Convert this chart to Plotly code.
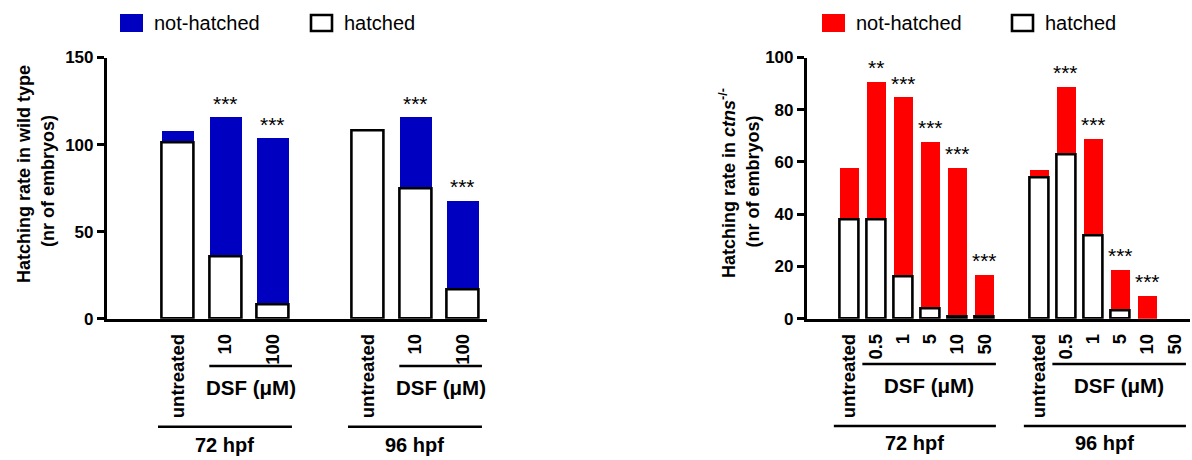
import plotly.graph_objects as go

# ---------------- data ----------------
wt_labels = ["untreated", "10", "100", "untreated", "10", "100"]
wt_groups = ["72 hpf", "72 hpf", "72 hpf", "96 hpf", "96 hpf", "96 hpf"]
wt_hatched = [101, 36, 8, 108, 75, 17]
wt_not_hatched = [7, 80, 96, 0, 41, 51]
wt_sig = ["", "***", "***", "", "***", "***"]

ctns_labels = ["untreated", "0.5", "1", "5", "10", "50",
               "untreated", "0.5", "1", "5", "10", "50"]
ctns_groups = ["72 hpf"] * 6 + ["96 hpf"] * 6
ctns_hatched = [38, 38, 16, 4, 1, 1, 54, 63, 32, 3, 0, 0]
ctns_not_hatched = [20, 53, 69, 64, 57, 16, 3, 26, 37, 16, 9, 0]
ctns_sig = ["", "**", "***", "***", "***", "***", "", "***", "***", "***", "***", ""]

wt_ticks = [0, 50, 100, 150]
ctns_ticks = [0, 20, 40, 60, 80, 100]

# ---------------- style ----------------
FONT = "Liberation Sans, Arial, sans-serif"
BLUE = "#0000C0"
RED = "#FF0000"
LW = 2.6
W, H = 1192, 460


def positions(groups):
    """bar positions: one empty slot before the first group and between groups"""
    pos, p, prev = [], 0, None
    for g in groups:
        p += 2 if (prev is not None and g != prev) else 1
        pos.append(p)
        prev = g
    return pos


def nz(values):
    # zero counts are not drawn (no empty outline)
    return [v if v else None for v in values]


wt_pos = positions(wt_groups)
ctns_pos = positions(ctns_groups)

fig = go.Figure()


def add_panel(xa, ya, pos, hatched, not_hatched, color, width):
    fig.add_trace(go.Bar(
        x=pos, y=nz(not_hatched), base=hatched, width=width,
        marker=dict(color=color, line=dict(width=0)),
        name="not-hatched", showlegend=False, xaxis=xa, yaxis=ya,
        hoverinfo="skip"))
    fig.add_trace(go.Bar(
        x=pos, y=nz(hatched), width=width,
        marker=dict(color="white", line=dict(color="black", width=LW)),
        name="hatched", showlegend=False, xaxis=xa, yaxis=ya,
        hoverinfo="skip"))


add_panel("x", "y", wt_pos, wt_hatched, wt_not_hatched, BLUE, 0.67)
add_panel("x2", "y2", ctns_pos, ctns_hatched, ctns_not_hatched, RED, 0.70)

# --- axes ---
ydom = [1 - 318.7 / H, 1 - 57.5 / H]
common_x = dict(showgrid=False, zeroline=False, showline=True, linewidth=LW,
                linecolor="black", ticks="outside", ticklen=5,
                tickcolor="rgba(0,0,0,0)", automargin=False,
                tickangle=-90, tickmode="array",
                tickfont=dict(family=FONT, size=18.5, color="black", weight="bold"))
common_y = dict(showgrid=False, zeroline=False, showline=True, linewidth=LW,
                linecolor="black", ticks="outside", ticklen=7, tickwidth=LW,
                tickcolor="black", tickmode="array", automargin=False,
                tickfont=dict(family=FONT, size=17, color="black", weight="bold"))

fig.update_layout(
    xaxis=dict(domain=[106.7 / W, 486.7 / W], range=[-0.5, 7.5],
               tickvals=wt_pos, ticktext=wt_labels, anchor="y", **common_x),
    yaxis=dict(domain=ydom, range=[0, 150], tickvals=wt_ticks, anchor="x", **common_y),
    xaxis2=dict(domain=[806.7 / W, 1190 / W], range=[-0.55, 13.57],
                tickvals=ctns_pos, ticktext=ctns_labels, anchor="y2", **common_x),
    yaxis2=dict(domain=ydom, range=[0, 100], tickvals=ctns_ticks, anchor="x2", **common_y),
)

shapes, annots = [], []

# significance stars
for xa, ya, pos, hat, nh, sig in [("x", "y", wt_pos, wt_hatched, wt_not_hatched, wt_sig),
                                   ("x2", "y2", ctns_pos, ctns_hatched, ctns_not_hatched, ctns_sig)]:
    for p, h, n, s in zip(pos, hat, nh, sig):
        if s:
            annots.append(dict(x=p, y=h + n, xref=xa, yref=ya, text=s, showarrow=False,
                               xanchor="center", yanchor="bottom", yshift=0,
                               font=dict(family=FONT, size=21, color="black")))


def brackets(xref, pos, labels, groups, dsf_y, dsf_t, hpf_y, hpf_t, l_dsf, l_hpf, r_ext):
    for g in dict.fromkeys(groups):
        gp = [p for p, gg in zip(pos, groups) if gg == g]
        dp = [p for p, gg, lab in zip(pos, groups, labels) if gg == g and lab != "untreated"]
        x0, x1 = dp[0] - l_dsf, dp[-1] + r_ext
        shapes.append(dict(type="line", xref=xref, yref="paper", x0=x0, x1=x1,
                           y0=dsf_y, y1=dsf_y, line=dict(color="black", width=LW)))
        annots.append(dict(x=(x0 + x1) / 2, y=dsf_t, xref=xref, yref="paper",
                           text="DSF (\u03bcM)", showarrow=False, xanchor="center",
                           yanchor="middle",
                           font=dict(family=FONT, size=20.5, color="black", weight="bold")))
        h0, h1 = gp[0] - l_hpf, gp[-1] + r_ext
        shapes.append(dict(type="line", xref=xref, yref="paper", x0=h0, x1=h1,
                           y0=hpf_y, y1=hpf_y, line=dict(color="black", width=LW)))
        annots.append(dict(x=(h0 + h1) / 2, y=hpf_t, xref=xref, yref="paper",
                           text=g, showarrow=False, xanchor="center", yanchor="middle",
                           font=dict(family=FONT, size=20, color="black", weight="bold")))


brackets("x", wt_pos, wt_labels, wt_groups, 1 - 366 / H, 1 - 387 / H,
         1 - 426.7 / H, 1 - 445 / H, 0.34, 0.42, 0.40)
brackets("x2", ctns_pos, ctns_labels, ctns_groups, 1 - 364 / H, 1 - 385 / H,
         1 - 426 / H, 1 - 443 / H, 0.50, 0.55, 0.42)

# y-axis titles
TF = dict(family=FONT, size=18, color="black", weight="bold")
for x, y, txt in [(24, 174, "Hatching rate in wild type"),
                  (48, 181, "(nr of embryos)"),
                  (727, 183, "Hatching rate in <i>ctns</i><sup>-/-</sup>"),
                  (752, 181.5, "(nr of embryos)")]:
    annots.append(dict(x=x / W, y=1 - y / H, xref="paper", yref="paper", showarrow=False,
                       xanchor="center", yanchor="middle", text=txt, textangle=-90, font=TF))

# legends (drawn boxes + labels)
LF = dict(family=FONT, size=20, color="black")
for x0, col in [(120, BLUE), (822, RED)]:
    shapes.append(dict(type="rect", xref="paper", yref="paper",
                       x0=x0 / W, x1=(x0 + 23) / W, y0=1 - 32 / H, y1=1 - 14 / H,
                       fillcolor=col, line=dict(width=0)))
    annots.append(dict(x=(x0 + 32) / W, y=1 - 23 / H, xref="paper", yref="paper",
                       text="not-hatched", showarrow=False, xanchor="left", yanchor="middle",
                       font=LF))
for x0 in [311, 1012]:
    shapes.append(dict(type="rect", xref="paper", yref="paper",
                       x0=x0 / W, x1=(x0 + 21) / W, y0=1 - 31 / H, y1=1 - 15 / H,
                       fillcolor="white", line=dict(color="black", width=LW)))
    annots.append(dict(x=(x0 + 31) / W, y=1 - 23 / H, xref="paper", yref="paper",
                       text="hatched", showarrow=False, xanchor="left", yanchor="middle",
                       font=LF))

fig.update_layout(
    template="none",
    width=W, height=H, barmode="overlay", bargap=0,
    margin=dict(l=0, r=0, t=0, b=0, pad=0),
    paper_bgcolor="white", plot_bgcolor="white",
    shapes=shapes, annotations=annots, showlegend=False,
    font=dict(family=FONT, color="black"),
)

# the page's default 8px body margin would shift the whole figure; remove it
fig.write_html("out.html", config={"displayModeBar": False},
               post_script="document.body.style.margin='0';")
